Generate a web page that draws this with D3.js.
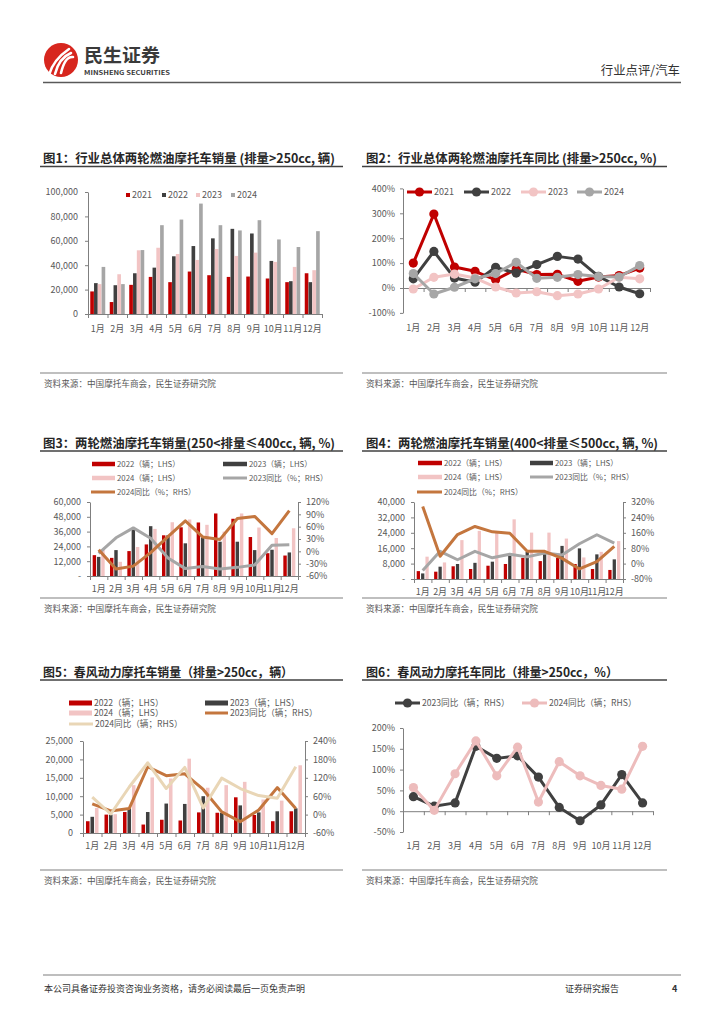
<!DOCTYPE html>
<html>
<head>
<meta charset="utf-8">
<script src="https://cdn.jsdelivr.net/npm/d3@7"></script>
<style>
  body { margin: 0; background: #fff; }
  svg text { font-family: "Noto Sans CJK SC", "Noto Sans", sans-serif; }
</style>
</head>
<body>
<svg id="page" width="724" height="1024"></svg>
<script>
// ---- data ----
const months = ['1月','2月','3月','4月','5月','6月','7月','8月','9月','10月','11月','12月'];

// fig 1: total >250cc sales (辆)
const total2021 = [18500, 9800, 23900, 30400, 26100, 34800, 31800, 30400, 30700, 29100, 26100, 33400];
const total2022 = [25300, 23600, 33400, 38000, 47300, 55700, 62000, 69800, 66000, 43500, 26900, 26100];
const total2023 = [24500, 32600, 52200, 54300, 49200, 44300, 53300, 47600, 50300, 42700, 38600, 35900];
const total2024 = [38600, 24500, 52400, 72800, 77400, 90500, 72800, 68500, 76900, 61100, 54900, 67900];

// fig 2: yoy (%)
const yoy2021 = [100, 297, 84, 67, 33, 76, 54, 55, 27, 44, 50, 80];
const yoy2022 = [37, 147, 40, 23, 83, 60, 94, 127, 116, 47, 4, -23];
const yoy2023 = [-4, 43, 56, 40, 4, -20, -15, -31, -24, -4, 43, 37];
const yoy2024 = [58, -24, 3, 37, 58, 103, 39, 43, 54, 46, 44, 90];

// fig 3: 250-400cc
const mid2022 = [16900, 14700, 20200, 25600, 33000, 39500, 43400, 50700, 46400, 31600, 18500, 16600];
const mid2023 = [15500, 21000, 37600, 40400, 33000, 26500, 31400, 27800, 27800, 21000, 21300, 19100];
const mid2024 = [21800, 11500, 23500, 38200, 43600, 45800, 41500, 36000, 50700, 39300, 30800, 38700];
const midYoy2023 = [-5, 33, 57, 32, -16, -42, -37, -43, -39, -33, 15, 16];
const midYoy2024 = [4, -43, -36, -3, 36, 74, 35, 29, 80, 85, 43, 99];

// fig 4: 400-500cc
const big2022 = [4100, 3800, 6600, 5200, 6900, 7800, 11000, 9300, 11000, 7800, 5200, 4700];
const big2023 = [2900, 6400, 7800, 8400, 9000, 12000, 14100, 13100, 17200, 15900, 12800, 10200];
const big2024 = [11600, 8600, 20200, 25000, 24500, 31000, 24100, 24100, 21000, 11200, 14100, 19700];
const bigYoy2023 = [-36, 64, 20, 64, 30, 49, 35, 55, 45, 103, 150, 106];
const bigYoy2024 = [297, 38, 151, 193, 165, 158, 64, 64, 27, -28, 10, 90];

// fig 5 / 6: CFMoto >250cc
const cf2022 = [3200, 5000, 5700, 2300, 3600, 3400, 5600, 5500, 9700, 4900, 3200, 5900];
const cf2023 = [4400, 5000, 6700, 5700, 8000, 7900, 10000, 5500, 7500, 5600, 5900, 6700];
const cf2024 = [6800, 5100, 13000, 15100, 14800, 20200, 12300, 13000, 13900, 9100, 8800, 18400];
const cfYoy2023 = [35, 12, 20, 156, 127, 133, 82, 9, -23, 15, 88, 20];
const cfYoy2024 = [57, 2, 90, 169, 85, 154, 22, 119, 85, 62, 53, 156];

const RED = '#C00000', DARK = '#404040', PINK = '#F2C4C4', GRAY = '#A6A6A6';
const ORANGE = '#C4763E', BEIGE = '#E9D6B6', LPINK = '#EDBCBC';
const TXT = '#595959', AXIS = '#7F7F7F';
const FONT = '"Noto Sans CJK SC", "Noto Sans", sans-serif';

const svg = d3.select('#page');

// ---- header ----
svg.append('circle').attr('cx', 61).attr('cy', 60).attr('r', 17).attr('fill', '#D7261E');
[0, 1, 2].forEach(i => {
  svg.append('path')
    .attr('d', `M${49 + i * 6},${75 - i} Q${53 + i * 6},${60 - i * 2} ${69 + i * 2},${49 + i * 4}`)
    .attr('fill', 'none').attr('stroke', '#fff').attr('stroke-width', 2.6).attr('stroke-linecap', 'round');
});
svg.append('text').attr('x', 84).attr('y', 61.5).attr('font-size', 18.5).attr('font-weight', 'bold')
  .attr('fill', '#3a3a3a').attr('textLength', 76).attr('lengthAdjust', 'spacingAndGlyphs').text('民生证券');
svg.append('text').attr('x', 84).attr('y', 74.5).attr('font-size', 6.5).attr('font-weight', 'bold')
  .attr('fill', '#3a3a3a').attr('textLength', 86).attr('lengthAdjust', 'spacingAndGlyphs').text('MINSHENG SECURITIES');
svg.append('text').attr('x', 680).attr('y', 75).attr('text-anchor', 'end').attr('font-size', 12.4)
  .attr('fill', '#333').text('行业点评/汽车');
svg.append('line').attr('x1', 43).attr('x2', 681).attr('y1', 82.5).attr('y2', 82.5)
  .attr('stroke', '#595959').attr('stroke-width', 1.5);

// ---- footer ----
svg.append('line').attr('x1', 43).attr('x2', 681).attr('y1', 975).attr('y2', 975)
  .attr('stroke', '#7f7f7f').attr('stroke-width', 1.2);
svg.append('text').attr('x', 44).attr('y', 992).attr('font-size', 9).attr('fill', '#333')
  .text('本公司具备证券投资咨询业务资格，请务必阅读最后一页免责声明');
svg.append('text').attr('x', 565).attr('y', 992).attr('font-size', 9).attr('fill', '#333').text('证券研究报告');
svg.append('text').attr('x', 672).attr('y', 992).attr('font-size', 9).attr('font-weight', 'bold')
  .attr('fill', '#333').text('4');

// ---- helpers ----
function title(x, y, width, x1, x2, lineY, txt) {
  svg.append('text').attr('x', x).attr('y', y).attr('font-size', 12.5).attr('font-weight', 'bold')
    .attr('fill', '#262626').attr('textLength', width).attr('lengthAdjust', 'spacingAndGlyphs').text(txt);
  svg.append('line').attr('x1', x1).attr('x2', x2).attr('y1', lineY).attr('y2', lineY)
    .attr('stroke', '#404040').attr('stroke-width', 1.5);
}

function source(x1, x2, lineY) {
  svg.append('line').attr('x1', x1).attr('x2', x2).attr('y1', lineY).attr('y2', lineY)
    .attr('stroke', '#808080').attr('stroke-width', 1.2);
  svg.append('text').attr('x', x1 + 4).attr('y', lineY + 14).attr('font-size', 8.6).attr('fill', TXT)
    .text('资料来源：中国摩托车商会，民生证券研究院');
}

function styleAxis(sel) {
  sel.attr('font-family', FONT).attr('font-size', 9);
  sel.select('.domain').attr('stroke', AXIS);
  sel.selectAll('.tick line').attr('stroke', AXIS);
  sel.selectAll('.tick text').attr('fill', TXT);
}

function monthAxis(g, x, axisY, labelY) {
  const edges = d3.scaleLinear().domain([0, 12]).range(x.range());
  g.append('g').attr('transform', `translate(0,${axisY})`)
    .call(d3.axisBottom(edges).tickValues(d3.range(13)).tickFormat('').tickSize(4).tickSizeOuter(0))
    .call(styleAxis);
  g.append('g').selectAll('text').data(months).join('text')
    .attr('x', d => x(d) + x.bandwidth() / 2).attr('y', labelY + 3.5)
    .attr('text-anchor', 'middle').attr('font-size', 9).attr('fill', TXT).text(d => d);
}

function bars(g, x, y, series, groupW, gap) {
  const inner = d3.scaleBand().domain(d3.range(series.length)).range([0, groupW]).paddingInner(gap);
  series.forEach((s, k) => {
    g.append('g').selectAll('rect').data(s.values).join('rect')
      .attr('x', (d, i) => x(months[i]) + (x.bandwidth() - groupW) / 2 + inner(k))
      .attr('width', inner.bandwidth())
      .attr('y', d => y(d)).attr('height', d => y(0) - y(d))
      .attr('fill', s.color);
  });
}

function lines(g, x, y, series, markers) {
  series.forEach(s => {
    const line = d3.line().x((d, i) => x(months[i]) + x.bandwidth() / 2).y(d => y(d));
    g.append('path').datum(s.values).attr('d', line).attr('fill', 'none')
      .attr('stroke', s.color).attr('stroke-width', s.width || 3).attr('stroke-linejoin', 'round');
    if (markers) {
      g.append('g').selectAll('circle').data(s.values).join('circle')
        .attr('cx', (d, i) => x(months[i]) + x.bandwidth() / 2).attr('cy', d => y(d))
        .attr('r', 4.6).attr('fill', s.color);
    }
  });
}

function legendRect(g, x, y, w, h, color, label, fs) {
  g.append('rect').attr('x', x).attr('y', y - h / 2).attr('width', w).attr('height', h).attr('fill', color);
  g.append('text').attr('x', x + w + 2).attr('y', y + fs * 0.36).attr('font-size', fs).attr('fill', TXT).text(label);
}
function legendLine(g, x, y, w, color, label, fs, marker) {
  g.append('line').attr('x1', x).attr('x2', x + w).attr('y1', y).attr('y2', y)
    .attr('stroke', color).attr('stroke-width', 3);
  if (marker) g.append('circle').attr('cx', x + w / 2).attr('cy', y).attr('r', 4.6).attr('fill', color);
  g.append('text').attr('x', x + w + 2).attr('y', y + fs * 0.36).attr('font-size', fs).attr('fill', TXT).text(label);
}

const pct = d => d + '%';
const dashZero = d => d === 0 ? '-' : d3.format(',')(d);

// ---- fig 1 ----
title(43, 163, 292, 40, 343, 166.5, '图1：行业总体两轮燃油摩托车销量 (排量>250cc, 辆)');
{
  const g = svg.append('g');
  const x = d3.scaleBand().domain(months).range([88, 322]);
  const y = d3.scaleLinear().domain([0, 100000]).range([314, 192]);
  bars(g, x, y, [
    { values: total2021, color: RED }, { values: total2022, color: DARK },
    { values: total2023, color: PINK }, { values: total2024, color: GRAY }
  ], 15, 0.04);
  g.append('g').attr('transform', 'translate(88,0)')
    .call(d3.axisLeft(y).tickValues(d3.range(0, 100001, 20000)).tickFormat(d3.format(',')).tickSize(3).tickPadding(7).tickSizeOuter(0))
    .call(styleAxis);
  monthAxis(g, x, 314, 328);
  const lg = svg.append('g');
  [['2021', RED, 126], ['2022', DARK, 162], ['2023', PINK, 196], ['2024', GRAY, 231]].forEach(([t, c, lx]) =>
    legendRect(lg, lx, 195, 4, 4, c, t, 9));
}
source(40, 343, 373);

// ---- fig 2 ----
title(366, 163, 291, 362, 667, 166.5, '图2：行业总体两轮燃油摩托车同比 (排量>250cc, %)');
{
  const g = svg.append('g');
  const x = d3.scaleBand().domain(months).range([403, 650]);
  const y = d3.scaleLinear().domain([-100, 400]).range([312.9, 188.4]);
  g.append('g').attr('transform', 'translate(403,0)')
    .call(d3.axisLeft(y).tickValues(d3.range(-100, 401, 100)).tickFormat(pct).tickSize(3).tickPadding(5).tickSizeOuter(0))
    .call(styleAxis);
  monthAxis(g, x, y(0), 327);
  lines(g, x, y, [
    { values: yoy2021, color: RED }, { values: yoy2022, color: DARK },
    { values: yoy2023, color: PINK }, { values: yoy2024, color: GRAY }
  ], true);
  const lg = svg.append('g');
  [['2021', RED, 407], ['2022', DARK, 464], ['2023', PINK, 521], ['2024', GRAY, 577]].forEach(([t, c, lx]) =>
    legendLine(lg, lx, 192, 25, c, t, 9, true));
}
source(362, 667, 373);

// ---- fig 3 ----
title(43, 447.5, 292, 40, 343, 451, '图3：两轮燃油摩托车销量(250<排量≤400cc, 辆, %)');
{
  const g = svg.append('g');
  const x = d3.scaleBand().domain(months).range([90, 298]);
  const y = d3.scaleLinear().domain([0, 60000]).range([576, 502]);
  const yR = d3.scaleLinear().domain([-60, 120]).range([576, 502]);
  bars(g, x, y, [
    { values: mid2022, color: RED }, { values: mid2023, color: DARK }, { values: mid2024, color: PINK }
  ], 12, 0.2);
  g.append('g').attr('transform', 'translate(90,0)')
    .call(d3.axisLeft(y).tickValues(d3.range(0, 60001, 12000)).tickFormat(dashZero).tickSize(3).tickPadding(6).tickSizeOuter(0))
    .call(styleAxis);
  g.append('g').attr('transform', 'translate(298,0)')
    .call(d3.axisRight(yR).tickValues(d3.range(-60, 121, 30)).tickFormat(pct).tickSize(3).tickPadding(5).tickSizeOuter(0))
    .call(styleAxis);
  monthAxis(g, x, 576, 588);
  lines(g, x, yR, [{ values: midYoy2023, color: GRAY }, { values: midYoy2024, color: ORANGE }], false);
  const lg = svg.append('g');
  legendRect(lg, 92, 464, 23, 4.5, RED, '2022（辆；LHS）', 7.8);
  legendRect(lg, 223, 464, 24, 4.5, DARK, '2023（辆；LHS）', 7.8);
  legendRect(lg, 92, 478, 23, 4.5, PINK, '2024（辆；LHS）', 7.8);
  legendLine(lg, 223, 478, 24, GRAY, '2023同比（%；RHS）', 7.8, false);
  legendLine(lg, 91, 492, 24, ORANGE, '2024同比（%；RHS）', 7.8, false);
}
source(40, 343, 598);

// ---- fig 4 ----
title(366, 447.5, 292, 362, 667, 451, '图4：两轮燃油摩托车销量(400<排量≤500cc, 辆, %)');
{
  const g = svg.append('g');
  const x = d3.scaleBand().domain(months).range([414, 623]);
  const y = d3.scaleLinear().domain([0, 40000]).range([579, 502]);
  const yR = d3.scaleLinear().domain([-80, 320]).range([579, 502]);
  bars(g, x, y, [
    { values: big2022, color: RED }, { values: big2023, color: DARK }, { values: big2024, color: PINK }
  ], 12, 0.25);
  g.append('g').attr('transform', 'translate(414,0)')
    .call(d3.axisLeft(y).tickValues(d3.range(0, 40001, 8000)).tickFormat(dashZero).tickSize(3).tickPadding(6).tickSizeOuter(0))
    .call(styleAxis);
  g.append('g').attr('transform', 'translate(623,0)')
    .call(d3.axisRight(yR).tickValues(d3.range(-80, 321, 80)).tickFormat(pct).tickSize(3).tickPadding(5).tickSizeOuter(0))
    .call(styleAxis);
  monthAxis(g, x, 579, 591);
  lines(g, x, yR, [{ values: bigYoy2023, color: GRAY }, { values: bigYoy2024, color: ORANGE }], false);
  const lg = svg.append('g');
  legendRect(lg, 418, 463, 24, 4.5, RED, '2022（辆；LHS）', 7.8);
  legendRect(lg, 530, 463, 23, 4.5, DARK, '2023（辆；LHS）', 7.8);
  legendRect(lg, 418, 477, 24, 4.5, PINK, '2024（辆；LHS）', 7.8);
  legendLine(lg, 530, 477, 23, GRAY, '2023同比（%；RHS）', 7.8, false);
  legendLine(lg, 417, 492, 25, ORANGE, '2024同比（%；RHS）', 7.8, false);
}
source(362, 667, 598);

// ---- fig 5 ----
title(43, 676.5, 250, 40, 343, 680, '图5：春风动力摩托车销量（排量>250cc，辆）');
{
  const g = svg.append('g');
  const x = d3.scaleBand().domain(months).range([83, 305]);
  const y = d3.scaleLinear().domain([0, 25000]).range([833, 741]);
  const yR = d3.scaleLinear().domain([-60, 240]).range([833, 741]);
  bars(g, x, y, [
    { values: cf2022, color: RED }, { values: cf2023, color: DARK }, { values: cf2024, color: PINK }
  ], 12.5, 0.2);
  g.append('g').attr('transform', 'translate(83,0)')
    .call(d3.axisLeft(y).tickValues(d3.range(0, 25001, 5000)).tickFormat(d3.format(',')).tickSize(3).tickPadding(7).tickSizeOuter(0))
    .call(styleAxis);
  g.append('g').attr('transform', 'translate(305,0)')
    .call(d3.axisRight(yR).tickValues(d3.range(-60, 241, 60)).tickFormat(pct).tickSize(3).tickPadding(5).tickSizeOuter(0))
    .call(styleAxis);
  monthAxis(g, x, 833, 845);
  lines(g, x, yR, [{ values: cfYoy2023, color: ORANGE }, { values: cfYoy2024, color: BEIGE }], false);
  const lg = svg.append('g');
  legendRect(lg, 69, 703, 23, 5, RED, '2022（辆；LHS）', 8.6);
  legendRect(lg, 205, 703, 23, 5, DARK, '2023（辆；LHS）', 8.6);
  legendRect(lg, 69, 713, 23, 5, PINK, '2024（辆；LHS）', 8.6);
  legendLine(lg, 205, 713, 23, ORANGE, '2023同比（辆；RHS）', 8.6, false);
  legendLine(lg, 69, 724, 24, BEIGE, '2024同比（辆；RHS）', 8.6, false);
}
source(40, 343, 870);

// ---- fig 6 ----
title(366, 676.5, 252, 362, 667, 680, '图6：春风动力摩托车同比（排量>250cc，%）');
{
  const g = svg.append('g');
  const x = d3.scaleBand().domain(months).range([403, 653]);
  const y = d3.scaleLinear().domain([-50, 200]).range([832, 728]);
  g.append('g').attr('transform', 'translate(403,0)')
    .call(d3.axisLeft(y).tickValues(d3.range(-50, 201, 50)).tickFormat(pct).tickSize(3).tickPadding(5).tickSizeOuter(0))
    .call(styleAxis);
  monthAxis(g, x, y(0), 845);
  lines(g, x, y, [{ values: cfYoy2023, color: DARK }, { values: cfYoy2024, color: LPINK }], true);
  const lg = svg.append('g');
  legendLine(lg, 395, 703, 25, DARK, '2023同比（辆；RHS）', 8.6, true);
  legendLine(lg, 522, 703, 25, LPINK, '2024同比（辆；RHS）', 8.6, true);
}
source(362, 667, 870);
</script>
</body>
</html>
